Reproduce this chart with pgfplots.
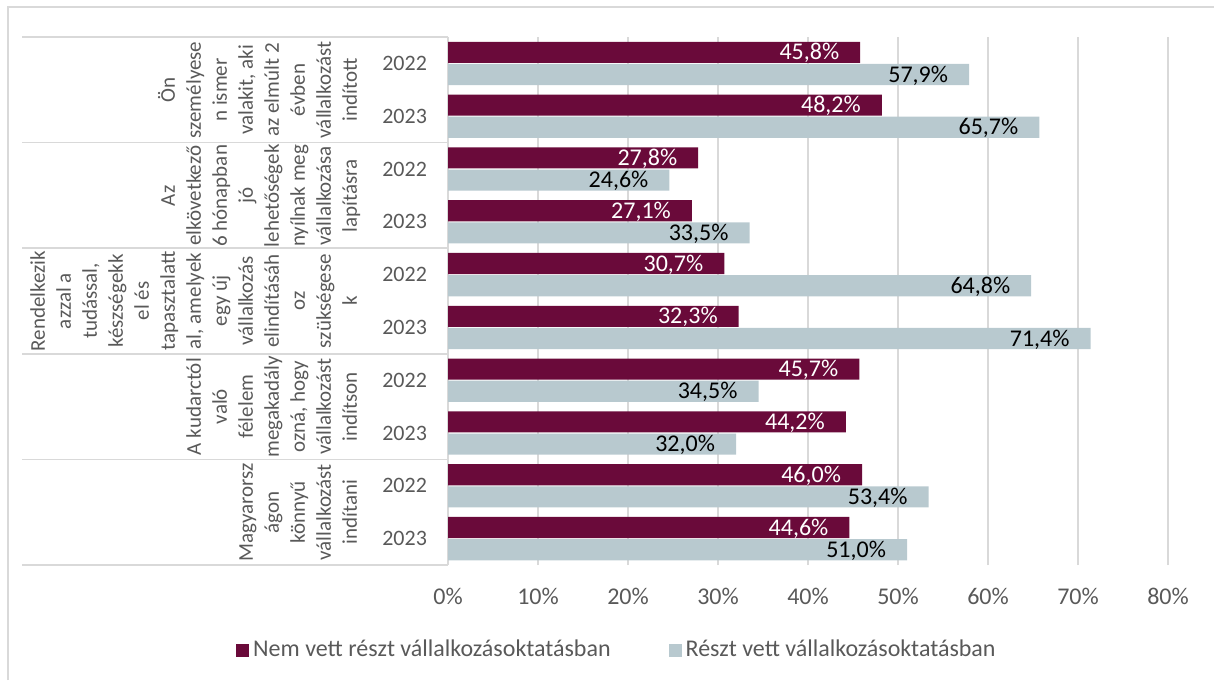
\documentclass[border=0pt]{standalone}
\usepackage{pgfplots}
\pgfplotsset{compat=1.18}
\usepackage{fontspec}
\setmainfont{Carlito}
\definecolor{cred}{RGB}{106,10,58}
\definecolor{cgray}{RGB}{184,201,207}
\definecolor{tgray}{RGB}{89,89,89}
\definecolor{lgray}{RGB}{217,217,217}
\begin{document}
\begin{tikzpicture}
\path[use as bounding box] (0pt,0pt) rectangle (607pt,-340pt);
\begin{axis}[
  at={(224pt,-282.5pt)}, anchor=south west,
  scale only axis, width=360pt, height=264pt,
  xmin=0, xmax=80, ymin=0.5, ymax=10.5,
  xbar, bar width=0.40, bar shift=0pt,
  xtick={0,10,...,80},
  xticklabel={\pgfmathprintnumber{\tick}\%},
  ytick={1,...,10},
  yticklabels={2023,2022,2023,2022,2023,2022,2023,2022,2023,2022},
  /pgf/number format/assume math mode=true,
  ticklabel style={font=\fontsize{12}{13}\selectfont, text=tgray},
  xticklabel style={yshift=-8pt},
  yticklabel style={font=\fontsize{11}{13}\selectfont, xshift=-7pt},
  major tick length=0pt,
  xmajorgrids, grid style={lgray, line width=0.8pt},
  axis y line*=left, axis x line*=bottom,
  x axis line style={draw=none},
  y axis line style={draw=lgray, line width=0.8pt, -},
  point meta=x,
  nodes near coords={\pgfmathprintnumber[fixed, fixed zerofill, precision=1, use comma]{\pgfplotspointmeta}\%},
  every node near coord/.append style={anchor=east, xshift=-7pt, yshift=-0.5pt, font=\fontsize{12}{13}\selectfont},
  legend columns=2,
  legend style={at={(0.236,-0.161)}, anchor=center, draw=none, fill=none,
    font=\fontsize{12}{13}\selectfont, text=tgray,
    /tikz/every even column/.append style={column sep=27pt}},
  legend image code/.code={\fill[#1] (0pt,-3.25pt) rectangle (6.5pt,3.25pt);},
]
\addplot[fill=cred, draw=none, every node near coord/.append style={text=white}] coordinates {
 (45.8,10.21) (48.2,9.21) (27.8,8.21) (27.1,7.21) (30.7,6.21) (32.3,5.21) (45.7,4.21) (44.2,3.21) (46.0,2.21) (44.6,1.21)};
\addlegendentry{Nem vett részt vállalkozásoktatásban}
\addplot[fill=cgray, draw=none, every node near coord/.append style={text=black}] coordinates {
 (57.9,9.79) (65.7,8.79) (24.6,7.79) (33.5,6.79) (64.8,5.79) (71.4,4.79) (34.5,3.79) (32.0,2.79) (53.4,1.79) (51.0,0.79)};
\addlegendentry{Részt vett vállalkozásoktatásban}
\end{axis}
\begin{scope}[x=0.5pt, y=-0.5pt]
\draw[lgray, line width=0.8pt] (8,680) -- (8,7) -- (1214,7);
\foreach \yy in {37,142.6,248.2,353.8,459.4,565} {\draw[lgray, line width=0.8pt] (22,\yy) -- (448,\yy);}
\tikzset{catlab/.style={rotate=90, anchor=south, align=center, inner sep=0pt, font=\fontsize{10.5}{13}\selectfont, text=tgray}}
\node[catlab] at (365,90) {Ön\\személyese\\n ismer\\valakit, aki\\az elmúlt 2\\évben\\vállalkozást\\indított\strut};
\node[catlab] at (365,195.8) {Az\\elkövetkező\\6 hónapban\\jó\\lehetőségek\\nyílnak meg\\vállalkozása\\lapításra\strut};
\node[catlab] at (365,301) {Rendelkezik\\azzal a\\tudással,\\készségekk\\el és\\tapasztalatt\\al, amelyek\\egy új\\vállalkozás\\elindításáh\\oz\\szükségese\\k\strut};
\node[catlab] at (365,406.6) {A kudarctól\\való\\félelem\\megakadály\\ozná, hogy\\vállalkozást\\indítson\strut};
\node[catlab] at (365,512.2) {Magyarorsz\\ágon\\könnyű\\vállalkozást\\indítani\strut};
\end{scope}
\end{tikzpicture}
\end{document}
